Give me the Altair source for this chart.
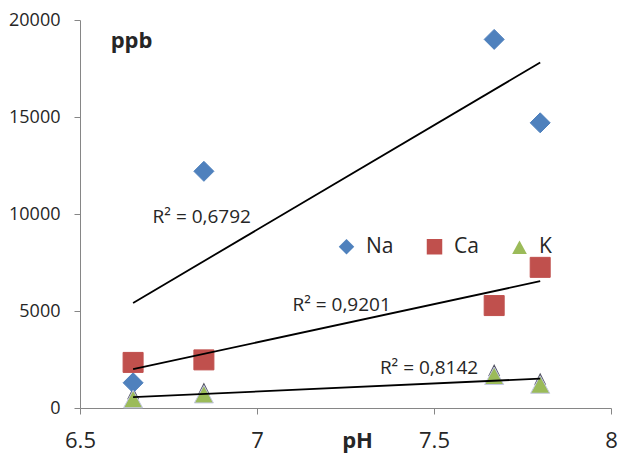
import altair as alt
import pandas as pd

ph = [6.65, 6.85, 7.67, 7.8]
na = [1300, 12200, 19000, 14700]
ca = [2350, 2480, 5280, 7250]
k = [500, 750, 1700, 1250]
series = ["Na", "Ca", "K"]
colors = ["#4F81BD", "#C0504D", "#9BBB59"]
r2_labels = ["R² = 0,6792", "R² = 0,9201", "R² = 0,8142"]
r2_x = [6.844, 7.239, 7.486]
r2_y = [9850, 5330, 2040]
x_ticks = [6.5, 7, 7.5, 8]
y_ticks = [0, 5000, 10000, 15000, 20000]

rows = []
for s, vals in zip(series, [na, ca, k]):
    for x, v in zip(ph, vals):
        rows.append({"pH": x, "ppb": v, "series": s})
df = pd.DataFrame(rows)
lab = pd.DataFrame({"pH": r2_x, "ppb": r2_y, "text": r2_labels})

FONT = "Open Sans"
TXT = "#262626"
AX = "#868686"
tri = "M0,-0.8L0.95,0.95L-0.95,0.95Z"
tip = "M0,-1.1L0.6,0.1L-0.6,0.1Z"

xs = alt.X(
    "pH:Q",
    scale=alt.Scale(domain=[6.5, 8], nice=False, zero=False),
    axis=alt.Axis(
        values=x_ticks, format="~g", title="pH", grid=False, labelFlush=False,
        domainColor=AX, tickColor=AX, tickSize=6, labelPadding=16,
        labelFont=FONT, labelFontSize=22, labelColor=TXT,
        titleFont=FONT, titleFontSize=22, titleFontWeight="bold", titleColor=TXT,
        titleX=277, titleY=39, titleBaseline="alphabetic", titleAlign="center",
    ),
)
ys = alt.Y(
    "ppb:Q",
    scale=alt.Scale(domain=[0, 20000], nice=False),
    axis=alt.Axis(
        values=y_ticks, format="d", title="ppb", grid=False, labelFlush=False,
        domainColor=AX, tickColor=AX, tickSize=6, labelPadding=14,
        labelFont=FONT, labelFontSize=18, labelColor=TXT,
        titleFont=FONT, titleFontSize=22, titleFontWeight="bold", titleColor=TXT,
        titleAngle=0, titleX=51, titleY=27, titleBaseline="alphabetic", titleAlign="center",
    ),
)

leg = dict(
    orient="none", legendX=256, legendY=216, direction="horizontal", title=None,
    labelFont=FONT, labelFontSize=21, labelColor=TXT, symbolSize=240,
    columnPadding=30, labelOffset=9, padding=0, symbolStrokeWidth=0,
)

tips = alt.Chart(df[df.series == "K"]).mark_point(
    shape=tip, filled=True, size=400, color="#50505f", opacity=1
).encode(x=xs, y=ys)

points = alt.Chart(df).mark_point(filled=True, size=400, opacity=1, strokeWidth=1).encode(
    x=xs, y=ys,
    color=alt.Color("series:N", scale=alt.Scale(domain=series, range=colors), legend=alt.Legend(**leg)),
    shape=alt.Shape("series:N", scale=alt.Scale(domain=series, range=["diamond", "square", tri]), legend=alt.Legend(**leg)),
    stroke=alt.Stroke("series:N", scale=alt.Scale(domain=series, range=["#4F81BD", "#C0504D", "#C5C8E4"]), legend=None),
)

lines = alt.Chart(df).transform_regression("pH", "ppb", groupby=["series"]).mark_line(
    color="black", strokeWidth=1.8
).encode(x=xs, y=ys, detail="series:N")

texts = alt.Chart(lab).mark_text(
    font=FONT, fontSize=19, color=TXT, align="center", baseline="middle"
).encode(x=xs, y=ys, text="text:N")

chart = alt.layer(tips, points, lines, texts).properties(
    width=531, height=388,
    padding={"left": 72, "top": 12, "right": 7, "bottom": 46},
    autosize="none",
).configure_view(stroke=None)

chart.save("out.html", embed_options={"renderer": "svg", "actions": False})
